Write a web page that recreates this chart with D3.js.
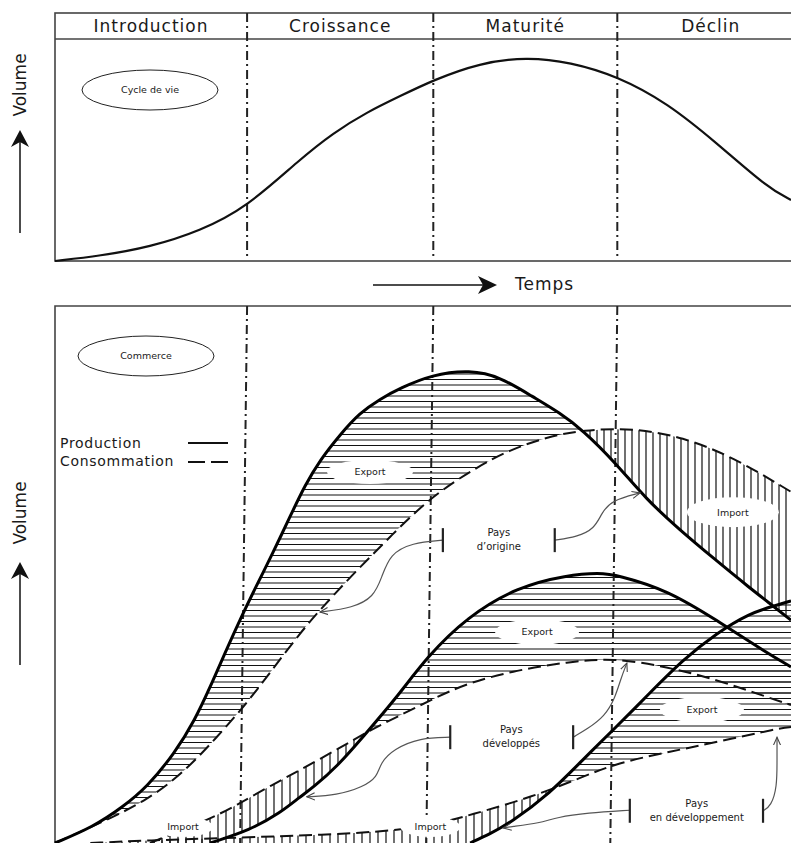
<!DOCTYPE html>
<html>
<head>
<meta charset="utf-8">
<script src="https://cdn.jsdelivr.net/npm/d3@7"></script>
<style>
  body { margin: 0; background: #fff; }
  svg { display: block; font-family: "DejaVu Sans", Verdana, sans-serif; }
</style>
</head>
<body>
<div id="chart"></div>
<script>
var w = 791;
var h = 843;

// Phases du cycle de vie (bornes en unités de temps 0-100)
var phases = ["Introduction", "Croissance", "Maturité", "Déclin"];
var phaseBounds = [26.1, 51.4, 76.4];

// Cycle de vie : [temps, volume]
var lifeCycle = [[0,0],[6.1,2.3],[12.9,6.3],[19.7,13.5],[26.1,24.3],[33.3,45.9],[37.8,57.7],[42.4,67.1],
  [46.9,74.3],[51.4,81.5],[57.7,89.2],[64.1,91.9],[70,89.6],[76.4,83.3],[83.2,71.2],[89.9,53.2],[96.7,33.3],[100,27.5]];

// Pays d'origine
var prodOrigine = [[0,0],[5.2,3],[9.2,6.7],[12.5,10.4],[16.3,16.8],[19,22.9],[21.1,29.1],[23.1,35.4],[25.1,41.5],
  [27.4,48],[29.6,54],[31.9,60.7],[34,66.7],[36,71.3],[38.7,76],[41.4,80.1],[44.2,82.7],[46.9,84.7],[51.2,87.2],
  [56.4,88.1],[60.5,86.8],[64.9,83.1],[68.6,80.1],[71.7,76.9],[76.1,70.9],[80.4,63.9],[84.9,58.3],[89.4,53.1],
  [94.4,47.5],[97.6,44.1],[100,41.5]];
var consOrigine = [[0,0],[7.1,4.3],[12.5,8],[17.4,13],[22,19.7],[26.1,26.1],[29.2,31.7],[33.3,39.1],[36,43.4],
  [40.1,49.5],[45.5,57],[51,64.4],[57.3,70],[61.8,73.2],[66.8,75.6],[71.7,76.9],[78.5,77.3],[85.3,75.6],[92.1,71.9],[100,65.4]];

// Pays développés
var prodDev = [[21.1,0],[26.5,2.4],[30.6,5.6],[33.3,8.6],[35.1,10.4],[38.3,14.2],[41.8,19.7],[46.5,27.2],[50.5,34.6],
  [56,42.1],[62.8,47.7],[69.6,49.9],[74,50.3],[76.4,49.9],[83.2,47.1],[89.9,41.5],[96.7,35.4],[100,32.8]];
var consDev = [[12.9,0],[21.5,4.7],[25.1,7.4],[29.2,10.6],[33.3,13.6],[38.7,17.7],[42.8,21],[46.5,23.5],[51,26.6],
  [56,29.8],[62.8,32.2],[69.6,33.7],[75.8,34.5],[83.2,32.8],[89.9,30.4],[96.7,27.2],[100,25.7]];

// Pays en développement
var prodEnDev = [[56.4,0],[59.1,1.7],[61.8,3.7],[67.3,9.3],[71.7,15.5],[75.8,21],[80.8,27.9],[85.3,34.1],
  [89.9,39.1],[94.4,42.8],[97.6,44.1],[100,45.1]];
var consEnDev = [[4.8,0],[12.9,0.5],[22.4,0.9],[31.9,1.3],[44.2,2],[51,3.2],[56.4,5.2],[64.9,8.6],[71.7,12.3],
  [76.4,14.9],[83.2,16.9],[89.9,18.8],[98.5,21.4],[100,21.6]];

var x = d3.scaleLinear().domain([0, 100]).range([55, 791]);
var yTop = d3.scaleLinear().domain([0, 100]).range([261, 39]);
var yBot = d3.scaleLinear().domain([0, 100]).range([843, 306]);

var curve = d3.curveBasis;
var ink = "#1a1a1a";

var svg = d3.select("#chart").append("svg")
    .attr("width", w)
    .attr("height", h);
var defs = svg.append("defs");

defs.append("marker")
    .attr("id", "open")
    .attr("viewBox", "0 -5 10 10")
    .attr("refX", 9).attr("refY", 0)
    .attr("markerWidth", 9).attr("markerHeight", 9)
    .attr("markerUnits", "userSpaceOnUse")
    .attr("orient", "auto")
  .append("path")
    .attr("d", "M0,-4L9,0L0,4")
    .attr("fill", "none")
    .attr("stroke", "#444")
    .attr("stroke-width", 1.2);

// ---------- panneau du haut ----------
svg.append("rect")
    .attr("x", 55).attr("y", 13)
    .attr("width", 800).attr("height", 248)
    .attr("fill", "none").attr("stroke", "#444").attr("stroke-width", 1.6);
svg.append("line")
    .attr("x1", 55).attr("x2", w).attr("y1", 39).attr("y2", 39)
    .attr("stroke", "#444").attr("stroke-width", 1.6);

var edges = [0].concat(phaseBounds, [101.8]);
svg.selectAll("text.phase")
    .data(phases)
    .enter()
    .append("text")
    .attr("class", "phase")
    .attr("x", function(d, i) { return x((edges[i] + edges[i + 1]) / 2); })
    .attr("y", 32)
    .attr("text-anchor", "middle")
    .attr("font-size", 17)
    .attr("letter-spacing", 1)
    .attr("fill", ink)
    .text(function(d) { return d; });

svg.selectAll("line.phaseTop")
    .data(phaseBounds)
    .enter()
    .append("line")
    .attr("class", "phaseTop")
    .attr("x1", function(d) { return x(d); })
    .attr("x2", function(d) { return x(d); })
    .attr("y1", 13).attr("y2", 259)
    .attr("stroke", "#222").attr("stroke-width", 2)
    .attr("stroke-dasharray", "9,4,2,4");

svg.append("path")
    .attr("d", d3.line()
        .x(function(d) { return x(d[0]); })
        .y(function(d) { return yTop(d[1]); })
        .curve(curve)(lifeCycle))
    .attr("fill", "none").attr("stroke", "#111").attr("stroke-width", 2.2);

svg.append("ellipse")
    .attr("cx", 150).attr("cy", 90).attr("rx", 68).attr("ry", 20)
    .attr("fill", "none").attr("stroke", "#222").attr("stroke-width", 1);
svg.append("text")
    .attr("x", 150).attr("y", 93)
    .attr("text-anchor", "middle").attr("font-size", 9.5).attr("fill", ink)
    .text("Cycle de vie");

// axe du temps
svg.append("line")
    .attr("x1", 373).attr("x2", 486).attr("y1", 285).attr("y2", 285)
    .attr("stroke", "#111").attr("stroke-width", 1.5);
svg.append("path")
    .attr("d", "M497,285L478,276L483,285L478,294Z")
    .attr("fill", "#111");
svg.append("text")
    .attr("x", 515).attr("y", 290)
    .attr("font-size", 17).attr("letter-spacing", 1).attr("fill", ink)
    .text("Temps");

// axes du volume
function volumeAxis(cy, yTip, yEnd) {
  svg.append("text")
      .attr("transform", "translate(26," + cy + ") rotate(-90)")
      .attr("text-anchor", "middle")
      .attr("font-size", 17).attr("fill", ink)
      .text("Volume");
  svg.append("line")
      .attr("x1", 20).attr("x2", 20).attr("y1", yEnd).attr("y2", yTip + 10)
      .attr("stroke", "#111").attr("stroke-width", 1.5);
  svg.append("path")
      .attr("d", "M20," + yTip + "L11," + (yTip + 17) + "L20," + (yTip + 12) + "L29," + (yTip + 17) + "Z")
      .attr("fill", "#111");
}
volumeAxis(85, 130, 233);
volumeAxis(513, 562, 665);

// ---------- panneau du bas ----------
svg.append("path")
    .attr("d", "M55,843L55,306L" + w + ",306")
    .attr("fill", "none").attr("stroke", "#444").attr("stroke-width", 1.6);

// zones de clipping pour les hachures
function clipUnder(id, s) {
  var a = d3.area()
      .x(function(d) { return x(d[0]); })
      .y0(yBot(-20))
      .y1(function(d) { return yBot(d[1]); })
      .curve(curve);
  defs.append("clipPath").attr("id", id).append("path").attr("d", a(s));
}
function clipAbove(id, s) {
  var a = d3.area()
      .x(function(d) { return x(d[0]); })
      .y0(yBot(120))
      .y1(function(d) { return yBot(d[1]); })
      .curve(curve);
  var cp = defs.append("clipPath").attr("id", id);
  cp.append("path").attr("d", a(s));
  if (s[0][0] > 0) {
    cp.append("rect").attr("x", 0).attr("y", 0).attr("width", x(s[0][0])).attr("height", h);
  }
}
var series = { prod1: prodOrigine, cons1: consOrigine, prod2: prodDev, cons2: consDev, prod3: prodEnDev, cons3: consEnDev };
Object.keys(series).forEach(function(k) {
  clipUnder("u-" + k, series[k]);
  clipAbove("a-" + k, series[k]);
});

function hatch(under, above, dir, step) {
  var g = svg.append("g")
      .attr("clip-path", "url(#" + under + ")")
    .append("g")
      .attr("clip-path", "url(#" + above + ")");
  if (dir === "h") {
    g.selectAll("line")
        .data(d3.range(308, 843, step))
        .enter()
        .append("line")
        .attr("x1", 55).attr("x2", w)
        .attr("y1", function(d) { return d; })
        .attr("y2", function(d) { return d; });
  } else {
    g.selectAll("line")
        .data(d3.range(58, w, step))
        .enter()
        .append("line")
        .attr("y1", 306).attr("y2", h)
        .attr("x1", function(d) { return d; })
        .attr("x2", function(d) { return d; });
  }
  g.selectAll("line").attr("stroke", "#111").attr("stroke-width", 1.2);
}
// export : production > consommation ; import : consommation > production
hatch("u-prod1", "a-cons1", "h", 5.5);
hatch("u-cons1", "a-prod1", "v", 7);
hatch("u-prod2", "a-cons2", "h", 5.5);
hatch("u-cons2", "a-prod2", "v", 8);
hatch("u-prod3", "a-cons3", "h", 5.5);
hatch("u-cons3", "a-prod3", "v", 8);

svg.selectAll("line.phaseBot")
    .data(phaseBounds)
    .enter()
    .append("line")
    .attr("class", "phaseBot")
    .attr("x1", function(d) { return x(d); })
    .attr("x2", function(d) { return x(d) - 7; })
    .attr("y1", 306).attr("y2", h)
    .attr("stroke", "#222").attr("stroke-width", 2)
    .attr("stroke-dasharray", "9,4,2,4");

var lineB = d3.line()
    .x(function(d) { return x(d[0]); })
    .y(function(d) { return yBot(d[1]); })
    .curve(curve);

[consOrigine, consDev, consEnDev].forEach(function(s) {
  svg.append("path").attr("d", lineB(s))
      .attr("fill", "none").attr("stroke", "#111").attr("stroke-width", 2)
      .attr("stroke-dasharray", "13,6");
});
[prodOrigine, prodDev, prodEnDev].forEach(function(s) {
  svg.append("path").attr("d", lineB(s))
      .attr("fill", "none").attr("stroke", "#000").attr("stroke-width", 3);
});

// étiquettes Export / Import
var tradeLabels = [
  { text: "Export", t: 42.8, v: 69.1, rx: 43, ry: 12 },
  { text: "Import", t: 92.1, v: 61.6, rx: 46, ry: 15 },
  { text: "Export", t: 65.5, v: 39.3, rx: 42, ry: 13 },
  { text: "Export", t: 87.9, v: 24.8, rx: 42, ry: 13 },
  { text: "Import", t: 17.4, v: 3.0, rx: 30, ry: 10 },
  { text: "Import", t: 51.0, v: 3.0, rx: 30, ry: 10 }
];
var lab = svg.selectAll("g.lab")
    .data(tradeLabels)
    .enter()
    .append("g")
    .attr("class", "lab")
    .attr("transform", function(d) { return "translate(" + x(d.t) + "," + yBot(d.v) + ")"; });
lab.append("ellipse")
    .attr("rx", function(d) { return d.rx; })
    .attr("ry", function(d) { return d.ry; })
    .attr("fill", "#fff");
lab.append("text")
    .attr("y", 3.5)
    .attr("text-anchor", "middle").attr("font-size", 9.5).attr("fill", ink)
    .text(function(d) { return d.text; });

// groupes de pays : crochets et flèches
var countryGroups = [
  { lines: ["Pays", "d’origine"], t0: 52.7, t1: 67.9, v: 56.4, tx: 60.3,
    arrows: [
      [[52.7,56.4],[48.5,55.9],[45.5,53.8],[44.4,49.5],[43.3,45.8],[40.5,43.8],[36.0,43.0]],
      [[67.9,56.4],[70.9,57.0],[73.3,58.5],[74.3,61.5],[75.6,63.8],[79.5,65.2]]
    ] },
  { lines: ["Pays", "développés"], t0: 53.7, t1: 70.4, v: 19.7, tx: 62.0,
    arrows: [
      [[53.7,19.7],[49.6,19.6],[46.0,17.5],[44.2,14.9],[43.8,12.3],[41.8,10.4],[38.3,8.9],[34.2,8.6]],
      [[70.4,19.7],[72.3,21.2],[74.7,23.6],[76.1,27.0],[76.9,30.7],[77.7,33.5]]
    ] },
  { lines: ["Pays", "en développement"], t0: 78.1, t1: 96.2, v: 6.0, tx: 87.2,
    arrows: [
      [[78.1,6.1],[72.3,5.6],[68.2,4.8],[65.9,3.7],[61.8,3.0],[60.9,2.8]],
      [[96.2,6.0],[97.3,6.9],[98.1,10.4],[98.1,15.5],[98.1,19.7]]
    ] }
];
var arrowLine = d3.line()
    .x(function(d) { return x(d[0]); })
    .y(function(d) { return yBot(d[1]); })
    .curve(d3.curveBasis);

countryGroups.forEach(function(g) {
  g.arrows.forEach(function(a) {
    svg.append("path").attr("d", arrowLine(a))
        .attr("fill", "none").attr("stroke", "#555").attr("stroke-width", 1.2)
        .attr("marker-end", "url(#open)");
  });
  [g.t0, g.t1].forEach(function(t) {
    svg.append("line")
        .attr("x1", x(t)).attr("x2", x(t))
        .attr("y1", yBot(g.v) - 12).attr("y2", yBot(g.v) + 12)
        .attr("stroke", "#222").attr("stroke-width", 2.2);
  });
  svg.append("text")
      .attr("x", x(g.tx)).attr("y", yBot(g.v) - 4)
      .attr("text-anchor", "middle").attr("font-size", 10).attr("fill", ink)
      .text(g.lines[0]);
  svg.append("text")
      .attr("x", x(g.tx)).attr("y", yBot(g.v) + 10)
      .attr("text-anchor", "middle").attr("font-size", 10).attr("fill", ink)
      .text(g.lines[1]);
});

// titre du panneau et légende
svg.append("ellipse")
    .attr("cx", 146).attr("cy", 356).attr("rx", 68).attr("ry", 20)
    .attr("fill", "none").attr("stroke", "#222").attr("stroke-width", 1);
svg.append("text")
    .attr("x", 146).attr("y", 359)
    .attr("text-anchor", "middle").attr("font-size", 9.5).attr("fill", ink)
    .text("Commerce");

svg.append("text").attr("x", 60).attr("y", 448)
    .attr("font-size", 14).attr("letter-spacing", 0.7).attr("fill", ink)
    .text("Production");
svg.append("text").attr("x", 60).attr("y", 466)
    .attr("font-size", 14).attr("letter-spacing", 0.7).attr("fill", ink)
    .text("Consommation");
svg.append("line").attr("x1", 188).attr("x2", 228).attr("y1", 443).attr("y2", 443)
    .attr("stroke", "#111").attr("stroke-width", 2.2);
svg.append("line").attr("x1", 188).attr("x2", 228).attr("y1", 462).attr("y2", 462)
    .attr("stroke", "#111").attr("stroke-width", 2.2).attr("stroke-dasharray", "17,6");
</script>
</body>
</html>
